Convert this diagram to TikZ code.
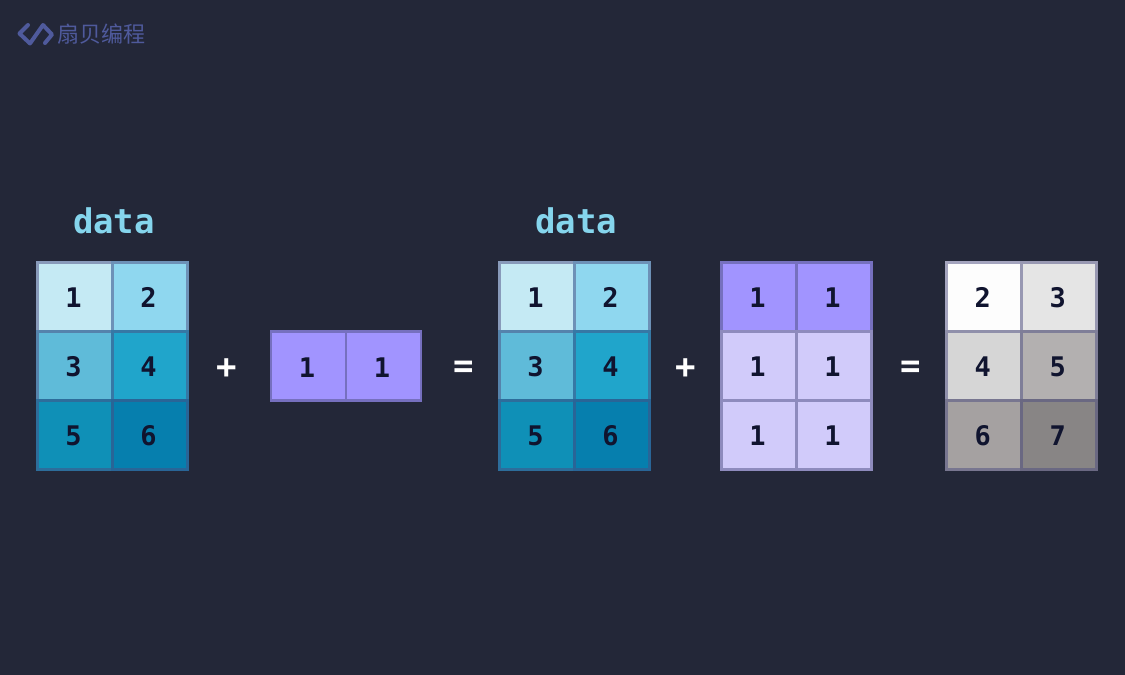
\documentclass[tikz,border=0pt]{standalone}
\usepackage{fontspec}
\usepackage{tikz}
\usetikzlibrary{positioning}
\newfontfamily\cellfont{DejaVu Sans Mono}[BoldFont={DejaVu Sans Mono Bold}]
\newfontfamily\cjkfont{Noto Sans CJK SC}

\definecolor{bgdark}{HTML}{232738}
\definecolor{edgeline}{HTML}{4B4B80}
\definecolor{inkdark}{HTML}{10142F}
\definecolor{titleblue}{HTML}{85D5ED}
\definecolor{logoblue}{HTML}{4F5A9C}
\definecolor{blueone}{HTML}{C5EAF4}
\definecolor{bluetwo}{HTML}{8FD7EF}
\definecolor{bluethree}{HTML}{5FBBD9}
\definecolor{bluefour}{HTML}{20A5CB}
\definecolor{bluefive}{HTML}{0F90B7}
\definecolor{bluesix}{HTML}{067FAE}
\definecolor{purpledark}{HTML}{A194FF}
\definecolor{purplelight}{HTML}{D1CBFA}
\definecolor{greytwo}{HTML}{FDFDFD}
\definecolor{greythree}{HTML}{E5E5E5}
\definecolor{greyfour}{HTML}{D6D6D6}
\definecolor{greyfive}{HTML}{B3B0B0}
\definecolor{greysix}{HTML}{A5A1A1}
\definecolor{greyseven}{HTML}{888585}

\tikzset{
  cell/.style={rectangle, fill=#1, draw=#1!50!edgeline, line width=2.8pt,
    minimum width=75pt, minimum height=69pt, inner sep=0pt, outer sep=0pt,
    text=inkdark, font=\cellfont\bfseries\fontsize{27}{27}\selectfont,
    text height=22pt, text depth=0pt, execute at begin node={\kern-3pt}},
  title/.style={text=titleblue, inner sep=0pt, font=\cellfont\bfseries\fontsize{34}{34}\selectfont},
  oper/.style={text=white, inner sep=0pt, font=\cellfont\bfseries\fontsize{34}{34}\selectfont}
}

\begin{document}
\begin{tikzpicture}[x=1pt,y=-1pt]
      \useasboundingbox[fill=bgdark] (0,0) rectangle (1125,675);

      % logo
      \draw[logoblue, line width=4pt, line join=round, line cap=round]
        (28,25) -- (19.5,33.5) -- (30,43.5) -- (43,25) -- (52,34.5) -- (45,43);
      \node[text=logoblue, inner sep=0pt, font=\cjkfont\fontsize{22}{22}\selectfont](logo) at (101,34){扇贝编程};

      % first data
      \node[title](titleA) at (114,221){data};
      \node[cell=blueone, anchor=north west](a1) at (37.5,262.2){1};
      \node[cell=bluetwo, right=0pt of a1](a2){2};
      \node[cell=bluethree, below=0pt of a1](a3){3};
      \node[cell=bluefour, right=0pt of a3](a4){4};
      \node[cell=bluefive, below=0pt of a3](a5){5};
      \node[cell=bluesix, right=0pt of a5](a6){6};

      \node[oper](plusA) at (227,369){+};

      % row of ones
      \node[cell=purpledark, anchor=north west](b1) at (271,331.5){1};
      \node[cell=purpledark, right=0pt of b1](b2){1};

      \node[oper](eqA) at (464,369){=};

      % second data
      \node[title](titleC) at (576,221){data};
      \node[cell=blueone, anchor=north west](c1) at (499.5,262.2){1};
      \node[cell=bluetwo, right=0pt of c1](c2){2};
      \node[cell=bluethree, below=0pt of c1](c3){3};
      \node[cell=bluefour, right=0pt of c3](c4){4};
      \node[cell=bluefive, below=0pt of c3](c5){5};
      \node[cell=bluesix, right=0pt of c5](c6){6};

      \node[oper](plusB) at (686,369){+};

      % stretched ones
      \node[cell=purpledark, anchor=north west](d1) at (721.5,262.2){1};
      \node[cell=purpledark, right=0pt of d1](d2){1};
      \node[cell=purplelight, below=0pt of d1](d3){1};
      \node[cell=purplelight, right=0pt of d3](d4){1};
      \node[cell=purplelight, below=0pt of d3](d5){1};
      \node[cell=purplelight, right=0pt of d5](d6){1};

      \node[oper](eqB) at (911,369){=};

      % result
      \node[cell=greytwo, anchor=north west](e1) at (946.8,262.2){2};
      \node[cell=greythree, right=0pt of e1](e2){3};
      \node[cell=greyfour, below=0pt of e1](e3){4};
      \node[cell=greyfive, right=0pt of e3](e4){5};
      \node[cell=greysix, below=0pt of e3](e5){6};
      \node[cell=greyseven, right=0pt of e5](e6){7};
\end{tikzpicture}
\end{document}
